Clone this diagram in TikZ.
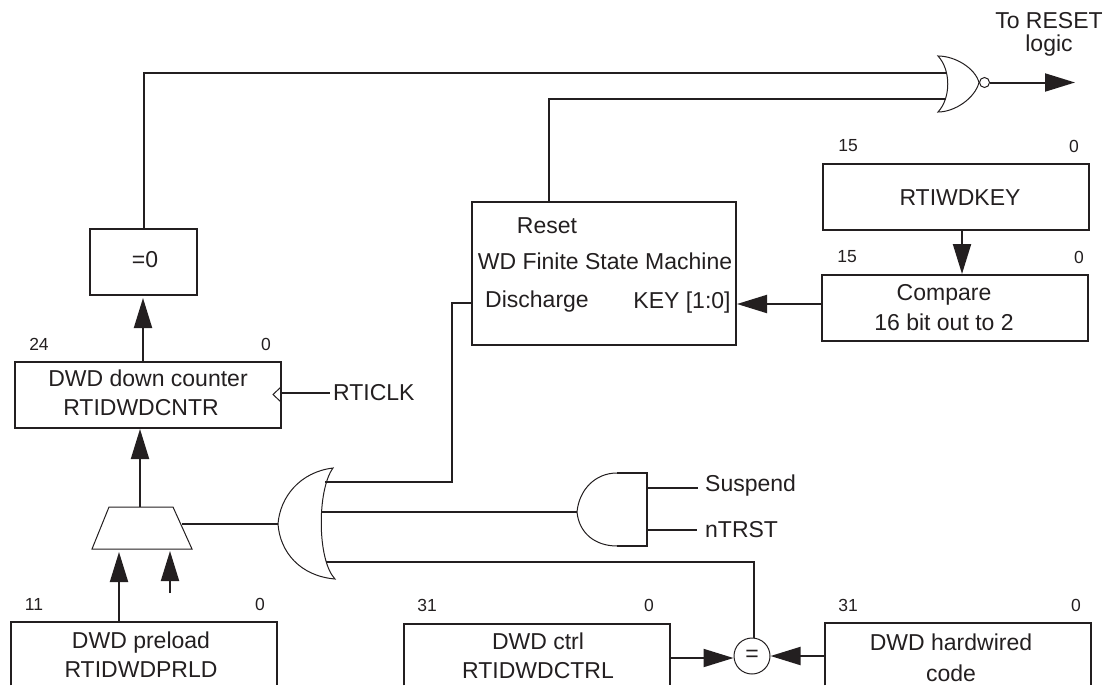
\documentclass[tikz,border=0pt]{standalone}
\usepackage{fontspec}
\setmainfont{Liberation Sans}
\usetikzlibrary{arrows.meta}
\definecolor{inkline}{HTML}{231F20}
\tikzset{
  box/.style={draw=inkline, line width=2pt, inner sep=0pt},
  openbox/.style={inner sep=0pt, anchor=north},
  wire/.style={draw=inkline, line width=2pt},
  arrowwire/.style={wire, -{Triangle[length=30pt, width=18pt]}},
  gate/.style={draw=inkline, line width=1pt},
  bitnum/.style={font=\fontsize{17.5}{20}\selectfont},
  tag/.style={inner sep=0pt, anchor=west},
  boxtext/.style={inner sep=0pt, align=center},
}
\begin{document}
\begin{tikzpicture}[x=1pt, y=-1pt, every node/.style={text=inkline, font=\fontsize{23}{29}\selectfont}]
  \useasboundingbox (0,0) rectangle (1110,685);

  %% Boxes
  \node[box, minimum width=107pt, minimum height=66pt] (zero) at (143.5,262) {};
  \node[box, minimum width=266pt, minimum height=66pt] (counter) at (148,395) {};
  \node[box, minimum width=264pt, minimum height=143pt] (fsm) at (604,273.5) {};
  \node[box, minimum width=266pt, minimum height=66pt] (wdkey) at (956,197) {};
  \node[box, minimum width=266pt, minimum height=66pt] (compare) at (955,308) {};

  % Boxes cut off by the lower edge
  \node[openbox, minimum width=266pt, minimum height=63pt] (preload) at (144,622) {};
  \node[openbox, minimum width=266pt, minimum height=61pt] (ctrl) at (537,624) {};
  \node[openbox, minimum width=266pt, minimum height=62pt] (hardwired) at (958,623) {};
  \foreach \b in {preload,ctrl,hardwired} {
    \draw[wire] (\b.south west) -- (\b.north west) -- (\b.north east) -- (\b.south east);
  }

  % Box texts
  \node[boxtext] (zerotext) at (145,260) {=0};
  \node[boxtext] (countertext) at (148,393) {DWD down counter\\RTIDWDCNTR\kern14pt};
  \node[boxtext] (wdkeytext) at (960,198) {RTIWDKEY};
  \node[boxtext] (comparetext) at (944,308) {Compare\\[1pt]16 bit out to 2};
  \node[boxtext] (preloadtext) at (141,655) {DWD preload\\RTIDWDPRLD};
  \node[boxtext] (ctrltext) at (538,656) {DWD ctrl\\RTIDWDCTRL};
  \node[boxtext] (hardwiredtext) at (951,658) {DWD hardwired\\[2pt]code};

  % FSM texts
  \node (reset) at (547,226) {Reset};
  \node (machine) at (605,261) {WD Finite State Machine};
  \node (discharge) at (537,302) {Discharge};
  \node (key) at (682,303) {KEY [1:0]};

  % Bit numbers
  \foreach \n/\x/\y/\t in {a/39/344/24, b/266/344/0, c/848/146/15, d/1074/146/0, e/847/257/15,
    f/1079/257/0, g/34/604/11, h/260/604/0, i/427/605/31, j/649/605/0, k/848/605/31, l/1076/605/0} {
    \node[bitnum] (bit\n) at (\x,\y) {\t};
  }

  %% Gates
  % NOR gate
  \coordinate (norout) at (979,82.5);
  \draw[gate] (938,56) .. controls (955,56) and (975,68) .. (norout)
    .. controls (975,98) and (955,112) .. (938,112)
    .. controls (951,98) and (951,70) .. cycle;
  \node[draw=inkline, line width=1pt, circle, minimum size=10pt, inner sep=0pt] (bubble) at (984.5,82.5) {};
  \coordinate (norinA) at (947,73);
  \coordinate (norinB) at (946,99);
  \coordinate (resetend) at (1075,82.5);
  \node[align=center, font=\fontsize{23}{23}\selectfont] (resetlabel) at (1049,34) {To RESET\\logic};

  % OR gate
  \coordinate (orout) at (278,524);
  \draw[gate] (333,468) .. controls (300,472) and (280,497) .. (orout)
    .. controls (280,552) and (300,576) .. (335,579)
    .. controls (317,560) and (317,490) .. cycle;
  \coordinate (orinA) at (325,482);
  \coordinate (orinB) at (322,512);
  \coordinate (orinC) at (326,562);

  % AND gate
  \coordinate (andout) at (577,512);
  \draw[gate] (617,473) .. controls (595,473) and (579,490) .. (andout)
    .. controls (579,533) and (595,546) .. (617,546);
  \draw[wire] (617,473) -- (647,473) -- (647,546) -- (617,546);
  \coordinate (andinA) at (647,488);
  \coordinate (andinB) at (647,530);
  \coordinate (suspendend) at (698,488);
  \coordinate (ntrstend) at (697,530);
  \node[tag] (suspend) at (705,486) {Suspend};
  \node[tag] (ntrst) at (705,530) {nTRST};

  % Mux
  \coordinate (muxtl) at (109,507);
  \coordinate (muxtr) at (173,507);
  \coordinate (muxbr) at (192,549);
  \coordinate (muxbl) at (92,549);
  \draw[gate] (muxtl) -- (muxtr) -- (muxbr) -- (muxbl) -- cycle;
  \coordinate (muxout) at (140,507);
  \coordinate (muxsel) at (182,524);
  \coordinate (muxinA) at (119,552);
  \coordinate (muxinB) at (170,551);
  \coordinate (muxfree) at (170,593);

  % Equal comparator
  \node[draw=inkline, line width=1pt, circle, minimum size=36pt, inner sep=0pt] (equal) at (752,656) {=};

  % Pins on the boxes
  \coordinate (zerotop) at (144,229);
  \coordinate (zerobottom) at (143,298);
  \coordinate (countertop) at (143,362);
  \coordinate (counterbottom) at (140,429);
  \coordinate (fsmtop) at (549,202);
  \coordinate (fsmleft) at (472,303);
  \coordinate (fsmright) at (737,304);
  \coordinate (bendor) at (452,482);
  \coordinate (bendfsm) at (452,303);
  \coordinate (wdkeybottom) at (962,230);
  \coordinate (comparetop) at (962,274);
  \coordinate (compareleft) at (822,304);
  \coordinate (preloadtop) at (119,622);
  \coordinate (ctrlright) at (670,658);
  \coordinate (equalleft) at (733.5,658);
  \coordinate (hardleft) at (825,656);
  \coordinate (equalright) at (770.5,656);
  \coordinate (equaltop) at (754,638);

  %% Connectors
  \draw[wire] (zerotop) |- (norinA);
  \draw[wire] (fsmtop) |- (norinB);
  \draw[arrowwire] (bubble.east) -- (resetend);
  \draw[arrowwire] (countertop) -- (zerobottom);
  \draw[arrowwire] (muxout) -- (counterbottom);
  \draw[arrowwire] (preloadtop) -- (muxinA);
  \draw[arrowwire] (muxfree) -- (muxinB);
  \draw[wire] (muxsel) -- (orout);
  \draw[wire] (orinA) -- (bendor) -- (bendfsm) -- (fsmleft);
  \draw[wire] (orinB) -- (andout);
  \draw[wire] (orinC) -| (equaltop);
  \draw[wire] (andinA) -- (suspendend);
  \draw[wire] (andinB) -- (ntrstend);
  \draw[arrowwire] (wdkeybottom) -- (comparetop);
  \draw[arrowwire] (compareleft) -- (fsmright);
  \draw[arrowwire] (ctrlright) -- (equalleft);
  \draw[arrowwire] (hardleft) -- (equalright);

  % Clock input
  \node[tag] (rticlk) at (333,393) {RTICLK};
  \coordinate (clkin) at (281,393);
  \coordinate (clkend) at (330,393);
  \draw[gate] (281,387) -- (273,394.5) -- (281,402);
  \draw[wire] (clkin) -- (clkend);
\end{tikzpicture}
\end{document}
